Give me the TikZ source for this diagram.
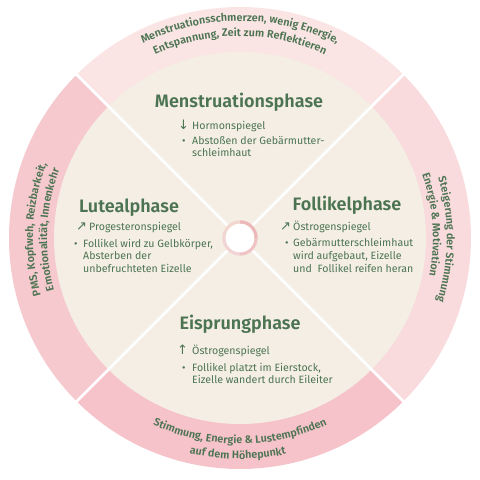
\documentclass[tikz,border=0pt]{standalone}
\usepackage{fontspec}
\setmainfont{Fira Sans}[BoldFont={Fira Sans SemiBold}]
\newfontfamily\arrowfont{DejaVu Sans}
\usetikzlibrary{decorations.text}
\definecolor{beige}{HTML}{F4EEE4}
\definecolor{tgreen}{HTML}{4C7452}
\definecolor{ringtop}{HTML}{FAE5E4}
\definecolor{ringright}{HTML}{F9DADD}
\definecolor{ringbottom}{HTML}{F6C3CB}
\definecolor{ringleft}{HTML}{F6C9CF}
\definecolor{hubA}{HTML}{ECB8B8}
\definecolor{hubB}{HTML}{F1D7CF}
\definecolor{hubC}{HTML}{F3D4D4}
\definecolor{hubD}{HTML}{EFC4C4}
\newcommand\ringtxt{\fontsize{10.8}{12}\selectfont\bfseries\color{tgreen}}
\tikzset{
  heading/.style={font=\fontsize{18}{21}\selectfont\bfseries, text=tgreen, inner sep=0pt, anchor=base},
  body/.style={font=\fontsize{10.6}{12}\selectfont, text=tgreen, inner sep=0pt, anchor=base west},
  arr/.style={font=\fontsize{13}{14}\selectfont\arrowfont, text=tgreen, inner sep=0pt, anchor=base west},
  ringlabel/.style={decorate, decoration={text along path, text align=center, text={#1}}},
  divider/.style={white, line width=2.5pt}
}
\begin{document}
\begin{tikzpicture}[x=1pt,y=1pt]
\useasboundingbox (-240,-242) rectangle (240,238);
% outer ring sectors
\fill[ringtop] (0,0) -- (45:231) arc (45:135:231) -- cycle;
\fill[ringleft] (0,0) -- (135:231) arc (135:225:231) -- cycle;
\fill[ringbottom] (0,0) -- (225:231) arc (225:315:231) -- cycle;
\fill[ringright] (0,0) -- (315:231) arc (315:405:231) -- cycle;
% inner disc
\fill[beige] (0,0) circle (186);
% dividers
\draw[divider] (45:235) -- (225:235);
\draw[divider] (135:235) -- (315:235);
% hub
\draw[line width=3.4pt, hubA] (0:16) arc (0:90:16);
\draw[line width=3.4pt, hubB] (90:16) arc (90:180:16);
\draw[line width=3.4pt, hubC] (180:16) arc (180:270:16);
\draw[line width=3.4pt, hubD] (270:16) arc (270:360:16);
\fill[white] (0,0) circle (14.3);

% ring labels
\path[ringlabel={|\ringtxt|Menstruationsschmerzen, wenig Energie,}] (125:217) arc (125:55:217);
\path[ringlabel={|\ringtxt|Entspannung, Zeit zum Reflektieren}] (125:202) arc (125:55:202);
\path[ringlabel={|\ringtxt|PMS, Kopfweh, Reizbarkeit,}] (207.5:207) arc (207.5:147.5:207);
\path[ringlabel={|\ringtxt|Emotionalität, Innenkehr}] (207.5:193) arc (207.5:147.5:193);
\path[ringlabel={|\ringtxt|Steigerung der Stimmung}] (29.5:207) arc (29.5:-30.5:207);
\path[ringlabel={|\ringtxt|Energie {\&} Motivation}] (34:193) arc (34:-26:193);
\path[ringlabel={|\ringtxt|Stimmung, Energie {\&} Lustempfinden}] (235:206) arc (235:305:206);
\path[ringlabel={|\ringtxt|auf dem Höhepunkt}] (239.4:221) arc (239.4:299.4:221);

% Menstruationsphase
\node[heading] (mh) at (-1,131) {Menstruationsphase};
\node[arr] (ma) at (-62,109) {↓};
\node[body] (m1) at (-48,109) {Hormonspiegel};
\node[body] (mb) at (-58,94) {•};
\node[body] (m2) at (-48,94) {Abstoßen der Gebärmutter-};
\node[body] (m3) at (-48,82) {schleimhaut};

% Lutealphase
\node[heading] (lh) at (-111,26) {Lutealphase};
\node[arr] (la) at (-164,8) {↗};
\node[body] (l1) at (-151,8) {Progesteronspiegel};
\node[body] (lb) at (-166,-9) {•};
\node[body] (l2) at (-157,-9) {Follikel wird zu Gelbkörper,};
\node[body] (l3) at (-157,-21.5) {Absterben der};
\node[body] (l4) at (-157,-34) {unbefruchteten Eizelle};

% Follikelphase
\node[heading] (fh) at (107,28) {Follikelphase};
\node[arr] (fa) at (40,8) {↗};
\node[body] (f1) at (53,8) {Östrogenspiegel};
\node[body] (fb) at (45,-8) {•};
\node[body] (f2) at (53,-8) {Gebärmutterschleimhaut};
\node[body] (f3) at (53,-21) {wird aufgebaut, Eizelle};
\node[body] (f4) at (53,-34) {und~ Follikel reifen heran};

% Eisprungphase
\node[heading] (eh) at (0,-91) {Eisprungphase};
\node[arr] (ea) at (-63,-116) {↑};
\node[body] (e1) at (-48,-116) {Östrogenspiegel};
\node[body] (eb) at (-58,-133) {•};
\node[body] (e2) at (-48,-133) {Follikel platzt im Eierstock,};
\node[body] (e3) at (-48,-145.5) {Eizelle wandert durch Eileiter};
\end{tikzpicture}
\end{document}
